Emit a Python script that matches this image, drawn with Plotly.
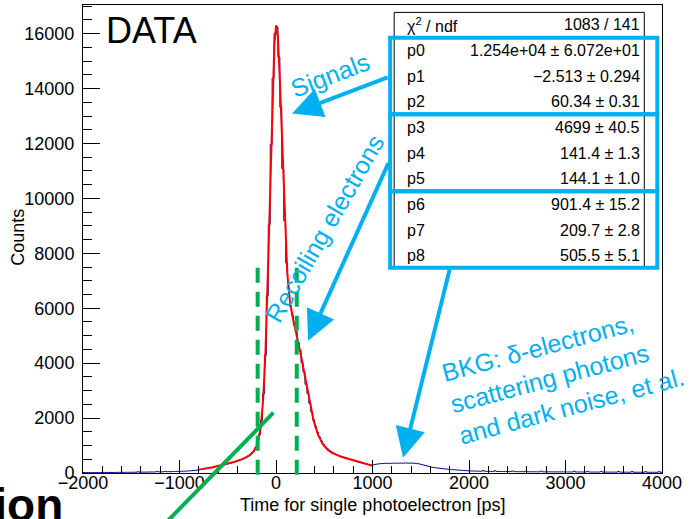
import numpy as np
import plotly.graph_objects as go

# ---------------- data ----------------
BIN_WIDTH = 20  # ps
HIST_START = -2000

# counts, -2000 .. -800 ps
counts_left = [
    14, 18, 12, 16, 20, 15, 17, 19, 14, 18,
    20, 17, 22, 19, 21, 18, 23, 20, 24, 21,
    25, 22, 27, 24, 28, 26, 30, 27, 45, 29,
    31, 34, 30, 36, 33, 38, 35, 40, 58, 39,
    42, 45, 60, 47, 50, 48, 53, 51, 56, 58,
    60, 63, 67, 70, 74, 78, 85, 92, 100, 110,
]
# counts, -800 .. 1000 ps
counts_core = [
    128, 140, 147, 163, 170, 187, 196, 215, 225, 245,
    256, 278, 288, 312, 325, 349, 362, 388, 404, 431,
    448, 480, 498, 536, 562, 610, 650, 722, 790, 920,
    1080, 1410, 1925, 2880, 4300, 6460, 9050, 11960, 14380, 16010,
    16240, 15150, 13320, 11080, 9190, 7650, 6730, 6080, 5740, 5390,
    5150, 4770, 4460, 4020, 3680, 3230, 2900, 2540, 2230, 1940,
    1700, 1490, 1310, 1170, 1050, 960, 895, 830, 785, 740,
    700, 668, 640, 612, 585, 558, 536, 512, 492, 468,
    448, 428, 406, 388, 368, 348, 330, 312, 296, 280,
]
# counts, 1000 .. 4000 ps
counts_tail = [
    295, 312, 326, 336, 342, 346, 350, 352, 355, 351,
    356, 360, 353, 358, 362, 356, 360, 366, 358, 362,
    360, 356, 350, 340, 326, 310, 292, 272, 252, 234,
    216, 205, 195, 185, 176, 166, 158, 150, 143, 136,
    130, 124, 118, 112, 106, 100, 95, 90, 86, 82,
    78, 75, 72, 70, 68, 66, 64, 90, 62, 60,
    60, 58, 57, 82, 56, 55, 54, 54, 53, 52,
    52, 51, 75, 50, 49, 49, 48, 48, 47, 70,
    46, 46, 45, 45, 44, 44, 44, 68, 43, 43,
    42, 42, 42, 41, 41, 41, 40, 40, 40, 40,
    39, 39, 38, 38, 62, 38, 37, 37, 36, 36,
    36, 60, 35, 35, 35, 34, 34, 34, 58, 33,
    33, 33, 32, 32, 32, 31, 31, 55, 31, 30,
    30, 30, 29, 29, 52, 29, 28, 28, 28, 27,
    27, 50, 27, 26, 26, 26, 25, 25, 48, 25,
]

# fit summary
chi2_text = "1083 / 141"
param_names = ["p0", "p1", "p2", "p3", "p4", "p5", "p6", "p7", "p8"]
param_text = [
    "1.254e+04 ± 6.072e+01",
    "−2.513 ± 0.294",
    "60.34 ± 0.31",
    "4699 ± 40.5",
    "141.4 ± 1.3",
    "144.1 ± 1.0",
    "901.4 ± 15.2",
    "209.7 ± 2.8",
    "505.5 ± 5.1",
]
FIT_RANGE = (-800, 1000)

x_ticks = [-2000, -1000, 0, 1000, 2000, 3000, 4000]
y_ticks = [0, 2000, 4000, 6000, 8000, 10000, 12000, 14000, 16000]
cut_low, cut_high = -190, 215  # time window markers (ps)

# ---------------- styling ----------------
FONT = "Liberation Sans, Arial, Helvetica, sans-serif"
CYAN = "#00b0f0"
GREEN = "#00b050"
HIST_COLOR = "#0a0a96"

W, H = 700, 519
L, R, T, B = 83.0, 661.7, 5.3, 473.3  # plot frame in pixels


def px(x):
    return (x - L) / (R - L)


def py(y):
    return (B - y) / (B - T)


def text_at(x, y, text, font, angle=0, xanchor="center", align="center"):
    return dict(xref="paper", yref="paper", x=px(x), y=py(y), text=text,
                xanchor=xanchor, yanchor="middle", align=align, textangle=angle,
                showarrow=False, font=font, borderpad=0)


# ---------------- histogram ----------------
counts = np.array(counts_left + counts_core + counts_tail, dtype=float)
edges = HIST_START + BIN_WIDTH * np.arange(len(counts) + 1)
step_y = np.append(counts, counts[-1])

# ---------------- fit curve (three gaussians) ----------------
p = [float(s.split("±")[0].replace("−", "-")) for s in param_text]
xf = np.linspace(FIT_RANGE[0], FIT_RANGE[1], 901)


def gaus(x, a, m, s):
    return a * np.exp(-0.5 * ((x - m) / s) ** 2)


yf = gaus(xf, p[0], p[1], p[2]) + gaus(xf, p[3], p[4], p[5]) + gaus(xf, p[6], p[7], p[8])

fig = go.Figure()
fig.add_trace(go.Scatter(x=edges, y=step_y, mode="lines", line_shape="hv",
                         line=dict(color=HIST_COLOR, width=1), hoverinfo="skip"))
fig.add_trace(go.Scatter(x=xf, y=yf, mode="lines",
                         line=dict(color="#ff0000", width=2), hoverinfo="skip"))

shapes = []
# time window markers
for xc in (cut_low, cut_high):
    shapes.append(dict(type="line", xref="x", yref="paper", x0=xc, x1=xc,
                       y0=py(268), y1=py(478), layer="above",
                       line=dict(color=GREEN, width=4, dash="15px,9px")))
# rising-edge guide line
shapes.append(dict(type="line", xref="paper", yref="paper",
                   x0=px(163), y0=py(526), x1=px(273.3), y1=py(413),
                   layer="above", line=dict(color=GREEN, width=4)))

# stats box
shapes.append(dict(type="rect", xref="paper", yref="paper",
                   x0=px(394), x1=px(644), y0=py(12.7), y1=py(268),
                   fillcolor="white", line=dict(color="black", width=1), layer="above"))
# parameter groups
row_y = [25 + 25.7 * k for k in range(10)]
group_edges = [38, 114.5, 191.5, 268]
for y0, y1 in zip(group_edges[:-1], group_edges[1:]):
    shapes.append(dict(type="rect", xref="paper", yref="paper",
                       x0=px(390), x1=px(657), y0=py(y0), y1=py(y1),
                       line=dict(color=CYAN, width=4), layer="above"))

ann = []
stat_font = dict(family=FONT, size=16, color="black")
labels = ["χ<sup>2</sup> / ndf"] + param_names
values = [chi2_text] + param_text
for yy, lab, val in zip(row_y, labels, values):
    ann.append(text_at(405.5, yy, lab, stat_font, xanchor="left"))
    ann.append(text_at(640.5, yy, val, stat_font, xanchor="right"))

# arrows (tip and tail in data coordinates)
arrows = [
    (167, 13090, 1172, 14432),
    (333, 4815, 1172, 11337),
    (1317, 557, 1804, 7476),
]
for xt, yt, xa, ya in arrows:
    ann.append(dict(x=xt, y=yt, ax=xa, ay=ya, xref="x", yref="y", axref="x", ayref="y",
                    text="", showarrow=True, arrowhead=2, arrowsize=1.5, arrowwidth=4,
                    arrowcolor=CYAN))

cyan_font = dict(family=FONT, size=25, color=CYAN)
ann.append(text_at(330, 75, "Signals", cyan_font, angle=-21))
ann.append(text_at(324, 229, "Recoiling electrons", cyan_font, angle=-60))
ann.append(text_at(563, 375, "BKG: δ-electrons,<br>scattering photons<br>and dark noise, et al.",
                   cyan_font, angle=-15, align="left"))

ann.append(text_at(151, 31, "DATA", dict(family=FONT, size=36, color="black")))

# axis titles
ann.append(text_at(372.4, 505, "Time for single photoelectron [ps]",
                   dict(family=FONT, size=18, color="black")))
ann.append(text_at(18, 237, "Counts", dict(family=FONT, size=18, color="black"), angle=-90))

# slide heading fragment
ann.append(text_at(64, 505, "<b>tion</b>", dict(family=FONT, size=46, color="black"),
                   xanchor="right"))

fig.update_layout(
    width=W, height=H,
    margin=dict(l=L, r=W - R, t=T, b=H - B, pad=0),
    paper_bgcolor="white", plot_bgcolor="white",
    showlegend=False,
    shapes=shapes, annotations=ann,
    font=dict(family=FONT, size=18, color="black"),
)
fig.update_xaxes(range=[-2000, 4000], tickvals=x_ticks, tickformat="d",
                 ticks="inside", ticklen=13, tickwidth=1, tickcolor="black",
                 minor=dict(dtick=200, ticks="inside", ticklen=7, tickcolor="black", showgrid=False),
                 showline=True, linecolor="black", linewidth=1, mirror=True,
                 showgrid=False, zeroline=False, ticklabelstandoff=-7,
                 tickfont=dict(family=FONT, size=18, color="black"))
fig.update_yaxes(range=[0, 17043], tickvals=y_ticks, tickformat="d",
                 ticks="inside", ticklen=17, tickwidth=1, tickcolor="black",
                 minor=dict(dtick=500, ticks="inside", ticklen=9, tickcolor="black", showgrid=False),
                 showline=True, linecolor="black", linewidth=1, mirror=True,
                 showgrid=False, zeroline=False, ticklabelstandoff=4,
                 tickfont=dict(family=FONT, size=18, color="black"))

fig.write_html("out.html")
